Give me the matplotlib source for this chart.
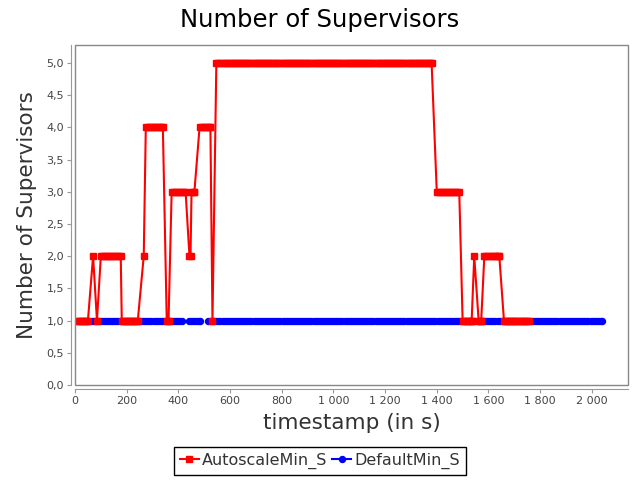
import matplotlib
matplotlib.use("Agg")
import matplotlib.pyplot as plt
from matplotlib.patches import Rectangle
from matplotlib.ticker import FuncFormatter, MultipleLocator
import numpy as np

plt.rcParams['font.family'] = ['DejaVu Sans']

# logging interval of the monitor (s)
sample_step = 8

# AutoscaleMin_S: runs of a constant number of supervisors
red_start = [10, 70, 85, 100, 181, 266, 274, 355, 374, 443, 451, 482, 532, 547,
             1400, 1500, 1545, 1562, 1584, 1660]
red_end = [50, 70, 85, 177, 243, 266, 340, 362, 428, 447, 462, 524, 532, 1380,
           1487, 1535, 1545, 1572, 1642, 1755]
red_level = [1, 2, 1, 2, 1, 2, 4, 1, 3, 2, 3, 4, 1, 5, 3, 1, 2, 1, 2, 1]

# DefaultMin_S: always one supervisor, one hole in the log
blue_start = [0, 440, 515]
blue_end = [415, 485, 2040]
blue_level = [1, 1, 1]
blue_gap_before = [False, False, True]

x_ticks_step = 200
y_ticks_step = 0.5


def expand(starts, ends, levels, gaps=None):
    xs, ys = [], []
    for i, (s, e, v) in enumerate(zip(starts, ends, levels)):
        if gaps is not None and gaps[i]:
            xs.append(np.nan)
            ys.append(np.nan)
        t = np.arange(s, e + 1, sample_step)
        if len(t) == 0 or t[-1] != e:
            t = np.append(t, e)
        xs.extend(t)
        ys.extend([v] * len(t))
    return np.array(xs, dtype=float), np.array(ys, dtype=float)


rx, ry = expand(red_start, red_end, red_level)
bx, by = expand(blue_start, blue_end, blue_level, blue_gap_before)

fig = plt.figure(figsize=(6.4, 4.8), dpi=100)
ax = fig.add_axes([75 / 640, 1 - 385 / 480, 553 / 640, 340 / 480])

blue_line, = ax.plot(bx, by, color='#0000ff', lw=1.5, marker='o', ms=4.3,
                     mec='#0000ff', mfc='#0000ff', label='DefaultMin_S', zorder=2)
red_line, = ax.plot(rx, ry, color='#ff0000', lw=1.5, marker='s', ms=4.3,
                    mec='#ff0000', mfc='#ff0000', label='AutoscaleMin_S', zorder=3)

ax.set_xlim(0, 2140)
ax.set_ylim(0, 5.28)
ax.xaxis.set_major_locator(MultipleLocator(x_ticks_step))
ax.yaxis.set_major_locator(MultipleLocator(y_ticks_step))
ax.xaxis.set_major_formatter(FuncFormatter(lambda v, p: f"{int(round(v)):,}".replace(',', ' ')))
ax.yaxis.set_major_formatter(FuncFormatter(lambda v, p: f"{v:.1f}".replace('.', ',')))

# plot outline + offset axis lines, JFreeChart style
for side in ['top', 'right']:
    ax.spines[side].set_visible(False)
for side in ['left', 'bottom']:
    ax.spines[side].set_position(('outward', 3))
    ax.spines[side].set_color('#999999')
    ax.spines[side].set_linewidth(0.8)
ax.add_patch(Rectangle((0, 0), 1, 1, transform=ax.transAxes, fill=False,
                       edgecolor='#888888', lw=1.0, clip_on=False, zorder=5))
ax.tick_params(direction='out', length=3, width=0.8, color='#999999',
               labelcolor='#444444', labelsize=8, pad=2)

ax.set_xlabel('timestamp (in s)', fontsize=15.5, color='#333333', labelpad=5)
ax.set_ylabel('Number of Supervisors', fontsize=15.5, color='#333333', labelpad=7)
fig.text(0.5, 1 - 20 / 480, 'Number of Supervisors', ha='center', va='center',
         fontsize=17.5, color='black')

leg = fig.legend(handles=[red_line, blue_line], loc='center',
                 bbox_to_anchor=(0.5, 1 - 461 / 480), ncol=2, fontsize=11.5,
                 frameon=True, fancybox=False, edgecolor='black', framealpha=1,
                 handlelength=1.2, handletextpad=0.2, columnspacing=0.3,
                 borderpad=0.35, borderaxespad=0)
leg.get_frame().set_linewidth(1.0)
for t in leg.get_texts():
    t.set_color('#333333')

fig.savefig('out.png', dpi=100)
